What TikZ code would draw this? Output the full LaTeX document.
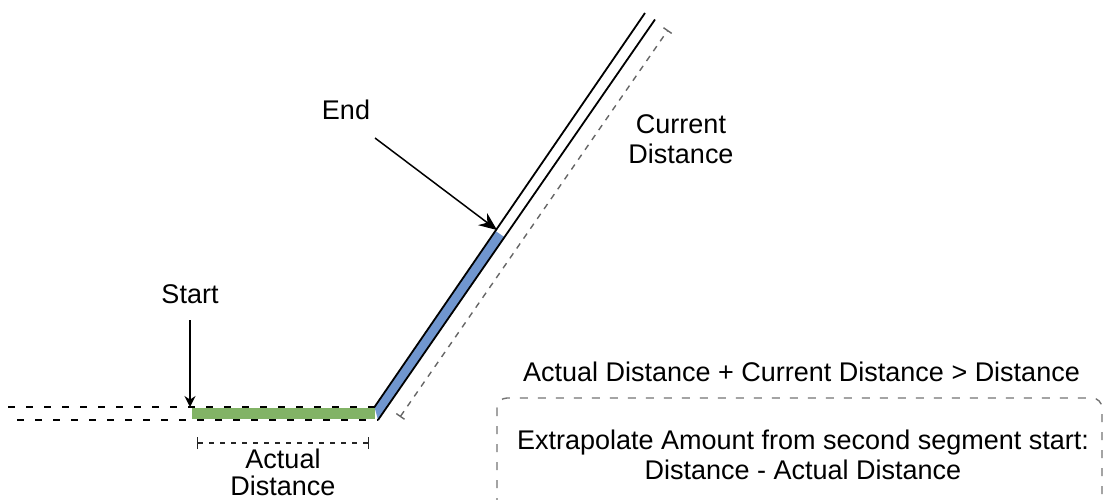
\documentclass[tikz,border=0pt]{standalone}
\usepackage{fontspec}
\setmainfont{Liberation Sans}
\usetikzlibrary{arrows.meta}

\definecolor{roadgreen}{HTML}{82B366}
\definecolor{roadblue}{HTML}{7096CF}

\begin{document}
\begin{tikzpicture}[x=1pt, y=-1pt, line join=round,
    lbl/.style={font=\fontsize{27}{30}\selectfont, inner sep=0pt, anchor=base, align=center},
    border/.style={line width=1.8pt, black},
    dashborder/.style={line width=1.8pt, black, dash pattern=on 7pt off 11pt},
    dimline/.style={line width=1.4pt, black!60, dash pattern=on 6pt off 6pt},
    pointer/.style={line width=1.5pt, -{Stealth[length=11pt, width=11pt]}}]
    \clip (0,0) rectangle (1104,500);

    % first segment
    \coordinate (A1) at (8,407);
    \coordinate (B1) at (374.5,407);
    \coordinate (A2) at (17,420);
    \coordinate (B2) at (378,420);
    \coordinate (G1) at (192,408.3);
    \coordinate (G2) at (375,419.2);

    % second segment
    \coordinate (C1) at (645,13);
    \coordinate (P1) at (378,420);
    \coordinate (Q1) at (655,19.5);
    \coordinate (E1) at (495.5,231);
    \coordinate (E2) at (505,237.5);

    \fill[roadgreen] (G1) rectangle (G2);
    \fill[roadblue] (B1) -- (E1) -- (E2) -- (P1) -- cycle;

    \draw[dashborder] (A1) -- (B1);
    \draw[dashborder] (A2) -- (B2);
    \draw[border] (B1) -- (C1);
    \draw[border] (P1) -- (Q1);

    % dimension lines
    \coordinate (D1) at (400,417);
    \coordinate (D2) at (668,30);
    \draw[dimline, {Bar[width=10pt]}-{Bar[width=10pt]}] (D1) -- (D2);
    \coordinate (H1) at (197,443);
    \coordinate (H2) at (369,443);
    \draw[dimline, black!85, dash pattern=on 5pt off 6pt, {Bar[width=12pt]}-{Bar[width=12pt]}] (H1) -- (H2);

    % labels
    \node[lbl] (start) at (190,303) {Start};
    \node[lbl] (end) at (346,120) {End};
    \node[lbl] (curdist) at (681,164) {Current\\Distance};
    \node[lbl] (actdist) at (283,495) {Actual\\[-3pt]Distance};
    \node[lbl] (cond) at (801.5,381) {Actual Distance + Current Distance > Distance};

    % pointers
    \coordinate (startTail) at (190,320);
    \coordinate (startTip) at (190,407);
    \draw[pointer] (startTail) -- (startTip);
    \coordinate (endTail) at (375,138);
    \coordinate (endTip) at (497,230);
    \draw[pointer, -{Stealth[length=18pt, width=15pt]}] (endTail) -- (endTip);

    % result box
    \draw[black!55, line width=1.4pt, dash pattern=on 8pt off 10pt, rounded corners=10pt] (497,398) rectangle (1102,540);
    \node[lbl] (extra) at (803,479) {Extrapolate Amount from second segment start:\\Distance - Actual Distance};
\end{tikzpicture}
\end{document}
